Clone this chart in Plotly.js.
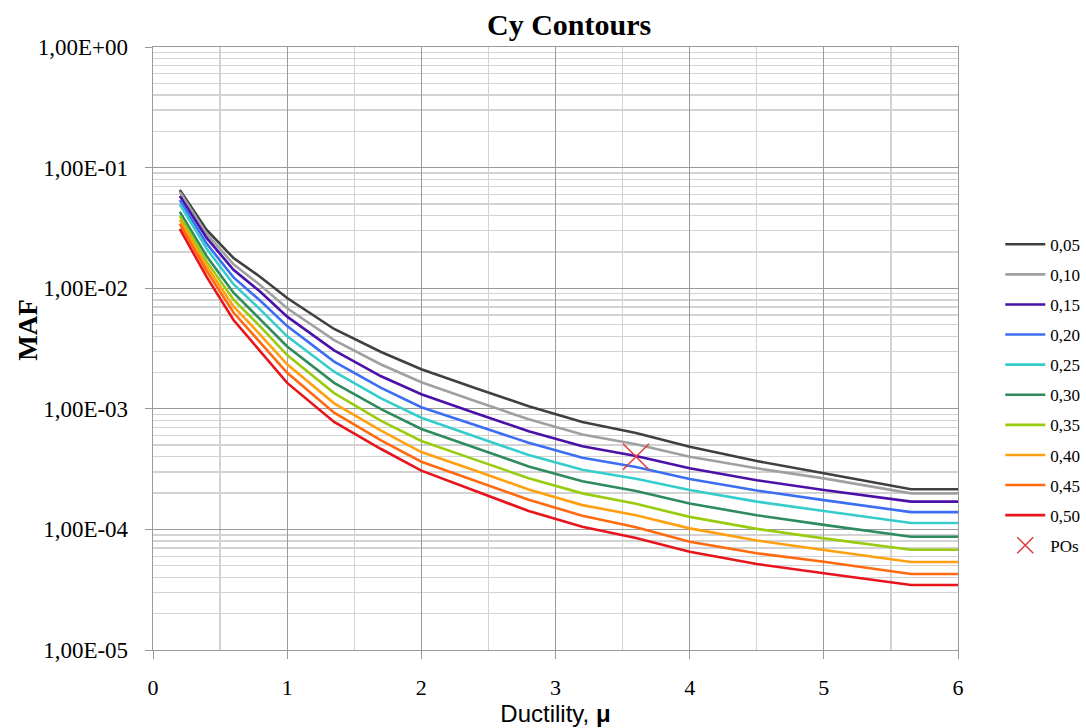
<!DOCTYPE html>
<html>
<head>
<meta charset="utf-8">
<script src="https://cdn.plot.ly/plotly-3.0.1.min.js"></script>
<style>html,body{margin:0;padding:0;background:#fff;}#chart{width:1086px;height:728px;}</style>
</head>
<body>
<div id="chart"></div>
<script>
// Ductility values (x)
const ductility = [0.2, 0.4, 0.6, 0.8, 1.0, 1.35, 1.7, 2.0, 2.4, 2.8, 3.2, 3.6, 4.0, 4.5, 5.0, 5.65, 6.0];

// Series names (Cy levels)
const seriesNames = ["0,05", "0,10", "0,15", "0,20", "0,25", "0,30", "0,35", "0,40", "0,45", "0,50"];

// MAF values per series
const maf_005 = [0.0652, 0.0304, 0.0178, 0.0124, 0.00830, 0.00459, 0.00296, 0.00213, 0.00149, 0.00105, 0.000778, 0.000630, 0.000485, 0.000369, 0.000292, 0.000215, 0.000215];
const maf_010 = [0.0628, 0.0282, 0.0158, 0.0106, 0.00682, 0.00371, 0.00233, 0.00166, 0.00116, 0.000818, 0.000611, 0.000508, 0.000401, 0.000321, 0.000265, 0.000199, 0.000199];
const maf_015 = [0.0582, 0.0261, 0.0142, 0.00933, 0.00581, 0.00305, 0.00186, 0.00132, 0.000923, 0.000652, 0.000490, 0.000406, 0.000321, 0.000256, 0.000212, 0.000170, 0.000170];
const maf_020 = [0.0537, 0.0234, 0.0123, 0.00787, 0.00485, 0.00246, 0.00149, 0.00103, 0.000733, 0.000522, 0.000393, 0.000329, 0.000262, 0.000210, 0.000175, 0.000139, 0.000139];
const maf_025 = [0.0499, 0.0212, 0.0108, 0.00665, 0.00399, 0.00203, 0.00122, 0.000843, 0.000590, 0.000414, 0.000312, 0.000263, 0.000212, 0.000170, 0.000142, 0.000113, 0.000113];
const maf_030 = [0.0430, 0.0184, 0.00918, 0.00553, 0.00329, 0.00164, 0.000993, 0.000680, 0.000476, 0.000333, 0.000251, 0.000208, 0.000164, 0.000131, 0.000109, 0.0000869, 0.0000869];
const maf_035 = [0.0396, 0.0166, 0.00805, 0.00481, 0.00279, 0.00135, 0.000794, 0.000541, 0.000379, 0.000266, 0.000199, 0.000163, 0.000127, 0.000101, 0.0000843, 0.0000679, 0.0000679];
const maf_040 = [0.0368, 0.0152, 0.00706, 0.00411, 0.00234, 0.00111, 0.000659, 0.000438, 0.000308, 0.000214, 0.000159, 0.000131, 0.000102, 0.0000809, 0.0000675, 0.0000537, 0.0000537];
const maf_045 = [0.0341, 0.0139, 0.00628, 0.00357, 0.00199, 0.000929, 0.000548, 0.000364, 0.000254, 0.000176, 0.000130, 0.000104, 0.0000791, 0.0000635, 0.0000540, 0.0000427, 0.0000427];
const maf_050 = [0.0310, 0.0124, 0.00545, 0.00301, 0.00164, 0.000778, 0.000464, 0.000307, 0.000208, 0.000142, 0.000105, 0.0000849, 0.0000653, 0.0000516, 0.0000433, 0.0000346, 0.0000346];

// Performance objective point
const poX = [3.6];
const poY = [0.000401];

// Axis tick labels
const yTickVals = [1, 0.1, 0.01, 0.001, 0.0001, 0.00001];
const yTickText = ["1,00E+00", "1,00E-01", "1,00E-02", "1,00E-03", "1,00E-04", "1,00E-05"];

const seriesData = [maf_005, maf_010, maf_015, maf_020, maf_025, maf_030, maf_035, maf_040, maf_045, maf_050];
const colors = ["#404040", "#a0a0a0", "#4a10a8", "#3b6ef2", "#35cccc", "#2e8b5e", "#99cc11", "#ffa010", "#ff6a10", "#e8141c"];

const serif = "Liberation Serif, Times New Roman, serif";

const traces = seriesData.map((ys, i) => ({
  x: ductility, y: ys, type: "scatter", mode: "lines",
  name: seriesNames[i], legendgroup: "g" + i,
  line: {color: colors[i], width: 2.6}
}));
traces.push({
  x: poX, y: poY, type: "scatter", mode: "markers", name: "POs", legendgroup: "po",
  marker: {symbol: "x-thin", size: 26, color: "#e03a3a", line: {color: "#e03a3a", width: 1.5}}
});

const layout = {
  width: 1086, height: 728,
  margin: {l: 153, r: 128, t: 47, b: 78, autoexpand: false},
  paper_bgcolor: "#ffffff", plot_bgcolor: "#ffffff",
  title: {text: "<b>Cy Contours</b>", font: {family: serif, size: 30, color: "#000"},
          xref: "container", x: 0.524, xanchor: "center", yref: "container", y: 0.966, yanchor: "middle"},
  xaxis: {
    range: [0, 6], dtick: 1, tick0: 0,
    showgrid: true, gridcolor: "#9a9a9a", gridwidth: 1.3,
    minor: {dtick: 0.5, showgrid: true, gridcolor: "#d3d3d3", gridwidth: 1.3},
    showline: true, linecolor: "#9a9a9a", linewidth: 1.3, mirror: true,
    ticks: "outside", ticklen: 8, tickcolor: "#9a9a9a",
    ticklabelstandoff: 9,
    zeroline: false,
    tickfont: {family: serif, size: 22, color: "#000"},
    title: {text: "Ductility, <b>μ</b>", font: {family: "Liberation Sans, Arial, sans-serif", size: 24, color: "#000"}, standoff: 5}
  },
  yaxis: {
    type: "log", range: [-5, 0],
    tickvals: yTickVals, ticktext: yTickText,
    showgrid: true, gridcolor: "#9a9a9a", gridwidth: 1.3,
    minor: {dtick: "D1", showgrid: true, gridcolor: "#d3d3d3", gridwidth: 1.3},
    showline: true, linecolor: "#9a9a9a", linewidth: 1.3, mirror: true,
    ticks: "outside", ticklen: 7, tickcolor: "#9a9a9a",
    ticklabelstandoff: 12,
    zeroline: false,
    tickfont: {family: serif, size: 23, color: "#000"}
  },
  annotations: [{
    text: "<b>MAF</b>", textangle: -90, xref: "paper", yref: "paper",
    x: -0.155, y: 0.53, xanchor: "center", yanchor: "middle", showarrow: false,
    font: {family: serif, size: 27, color: "#000"}
  }],
  showlegend: true,
  legend: {
    x: 1.0525, xanchor: "left", y: 0.702, yanchor: "top",
    font: {family: serif, size: 17, color: "#000"},
    traceorder: "grouped", tracegroupgap: 5, itemwidth: 40,
    bgcolor: "rgba(0,0,0,0)", borderwidth: 0
  }
};

Plotly.newPlot("chart", traces, layout, {displayModeBar: false, staticPlot: true});
</script>
</body>
</html>
